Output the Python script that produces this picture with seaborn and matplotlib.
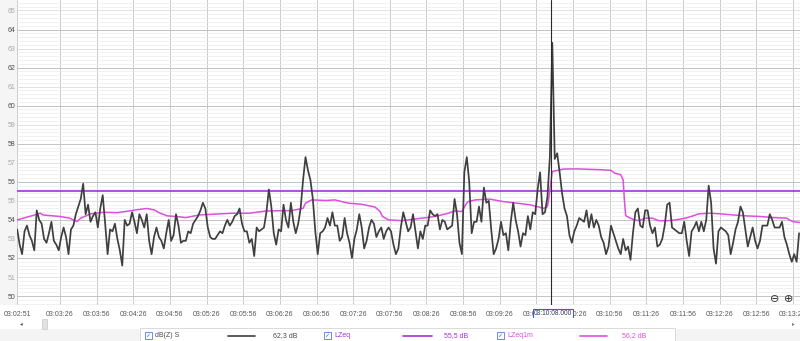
import numpy as np
import pandas as pd
import matplotlib
matplotlib.use("Agg")
import matplotlib.pyplot as plt
from matplotlib.patches import Rectangle
from matplotlib.lines import Line2D
from matplotlib.ticker import MultipleLocator
import seaborn as sns

# ---------------- data (time = seconds after 03:02:51) ----------------
step_s = 2
dbz_s = [
    53.5, 52.7, 52.2, 53.4, 53.7, 53.2, 52.9, 52.4, 54.5, 54.0,
    53.8, 53.0, 52.8, 53.3, 53.9, 52.9, 52.7, 52.4, 53.1, 53.6,
    53.1, 52.2, 53.5, 53.7, 54.3, 54.7, 55.1, 55.9, 54.3, 54.8,
    53.9, 54.2, 54.4, 53.6, 54.6, 55.3, 53.8, 52.2, 53.5, 53.4,
    53.8, 53.0, 52.4, 51.6, 54.0, 53.7, 53.8, 54.4, 53.9, 53.3,
    54.3, 54.0, 53.6, 54.3, 52.9, 52.2, 53.1, 53.6, 53.1, 52.9,
    52.5, 53.3, 54.0,
    52.9, 53.2, 54.3, 53.7, 52.8, 52.9, 52.9,
    53.4, 53.3, 53.8, 54.0, 54.2, 54.5, 54.9, 54.6, 53.6, 53.1,
    53.0, 53.0, 53.2, 53.4, 53.3, 53.7, 54.0, 53.7, 53.9, 54.2,
    54.3, 54.6, 53.8, 53.4, 53.4, 52.8, 53.0, 52.1, 53.6, 53.4,
    53.5, 53.6, 54.4, 55.6, 54.7, 53.3, 52.7, 53.5, 53.4, 54.8,
    54.0, 53.6, 54.9, 53.9, 53.3, 53.8, 54.6, 56.1, 57.3, 56.6,
    56.1, 55.1, 53.4, 52.2, 53.3, 53.4, 53.6,
    54.1, 53.7, 54.4, 53.7, 53.7, 52.9, 53.1, 54.1, 53.3, 52.8,
    52.0, 53.0, 53.5, 54.3, 53.6, 52.5, 52.9, 53.6, 54.0, 53.8,
    53.1, 53.4, 53.6, 53.0, 53.4, 53.6, 53.4, 52.7, 52.2, 52.5,
    53.6, 54.4, 53.9, 53.4, 53.6, 54.3, 53.4, 52.5, 53.4, 53.0,
    53.7, 53.7, 54.5, 54.3, 54.2, 54.3, 53.5, 54.0, 53.9, 53.5,
    53.6, 53.7, 55.1, 54.3, 52.8, 52.2, 56.5, 57.3, 56.0, 53.3,
    53.9, 53.9, 54.7, 53.9,
    55.7, 54.9, 55.0, 53.5, 52.2, 52.5, 53.0, 53.9, 53.2, 53.3,
    52.4, 53.9, 54.9, 54.0, 53.4, 52.6, 53.3, 53.2, 54.2, 53.5,
    54.4, 54.3, 55.6, 56.5, 54.3, 54.4, 55.2, 57.3, 63.3, 57.2,
    57.5, 56.5, 55.4, 54.6, 54.2, 53.2, 52.8, 53.4, 53.7, 54.1,
    54.0, 53.9, 54.5, 53.6, 54.3, 53.6, 54.0, 53.7, 53.1, 52.8,
    52.2, 52.6, 53.7, 53.3, 52.9, 52.5, 52.2, 53.0, 52.4, 52.6,
    51.9, 53.3, 54.4,
    54.6, 53.7, 53.6, 54.5, 54.5, 53.7, 53.3, 53.6, 52.6, 52.7,
    53.0, 53.7, 54.8, 54.9, 53.6, 53.5, 53.4, 53.3, 53.3, 53.9,
    52.9, 52.1, 53.4, 53.6, 53.9, 53.4, 53.9, 53.4, 54.0, 55.8,
    54.9, 52.5, 51.7, 53.4, 53.6, 53.5, 53.4, 53.2, 52.2, 52.8,
    53.5, 53.9, 54.7, 54.4, 53.5, 52.6, 53.1, 53.6, 52.9, 52.5,
    52.9, 53.7, 53.7, 53.7, 54.3, 54.0, 53.6, 53.6, 53.6, 53.9,
    53.1, 52.7, 52.2, 51.8, 52.2, 51.8, 53.3,
]

lzeq_level = 55.5

lzeq1m_t = [0, 10, 19, 21, 35, 43, 46, 49, 52, 60, 71, 82, 98, 106, 112, 117,
            123, 130, 138, 149, 176, 190, 204, 225, 234, 236, 241, 253, 260,
            271, 282, 293, 297, 299, 304, 315, 331, 342, 353, 358, 364, 367,
            369, 375, 387, 398, 409, 420, 431, 434, 435, 436, 438, 447, 458,
            480, 486, 489, 494, 496, 497, 498, 499, 505, 509, 514, 520, 525,
            531, 539, 547, 553, 558, 567, 575, 586, 597, 608, 619, 630, 632,
            635, 641]
lzeq1m_v = [54.0, 54.18, 54.35, 54.26, 54.18, 54.09, 54.0, 53.91, 54.09, 54.32,
            54.4, 54.38, 54.53, 54.6, 54.53, 54.35, 54.21, 54.18, 54.12, 54.26,
            54.35, 54.35, 54.47, 54.49, 54.61, 54.88, 55.05, 55.02, 55.05,
            54.88, 54.82, 54.67, 54.44, 54.18, 54.0, 53.96, 54.09, 54.18,
            54.35, 54.47, 54.44, 54.79, 54.96, 55.05, 55.09, 54.96, 54.88,
            54.79, 54.61, 54.7, 55.05, 55.58, 56.54, 56.67, 56.68, 56.63,
            56.6, 56.46, 56.37, 56.1, 55.05, 54.26, 54.18, 54.0, 53.96, 54.09,
            54.09, 53.96, 53.95, 54.0, 54.09, 54.21, 54.32, 54.35, 54.32,
            54.26, 54.21, 54.18, 54.12, 54.09, 54.0, 53.91, 53.86]

tick_t = [0, 35, 65, 95, 125, 155, 185, 215, 245, 275, 305, 335, 365, 395,
          425, 455, 485, 515, 545, 575, 605, 635]
tick_labels = ["03:02:51", "03:03:26", "03:03:56", "03:04:26", "03:04:56",
               "03:05:26", "03:05:56", "03:06:26", "03:06:56", "03:07:26",
               "03:07:56", "03:08:26", "03:08:56", "03:09:26", "03:09:56",
               "03:10:26", "03:10:56", "03:11:26", "03:11:56", "03:12:26",
               "03:12:56", "03:13:26"]
y_ticks = list(range(50, 66))

cursor_t = 437
cursor_label = "03:10:08.000"

legend_names = ["dB(Z) S", "LZeq", "LZeq1m"]
legend_values = ["62,3 dB", "55,5 dB", "56,2 dB"]

# ---------------- styles ----------------
C_DBZ = "#3f3f3f"
C_LZEQ = "#a133d6"
C_LZEQ1M = "#de4fe0"
W, H = 800, 341

sns.set_style("white")
plt.rcParams["font.family"] = ["Liberation Sans", "DejaVu Sans"]

fig = plt.figure(figsize=(W / 100, H / 100), dpi=100, facecolor="white")
ax_left, ax_right, ax_top, ax_bottom = 17.2, 800, 0, 305
ax = fig.add_axes([ax_left / W, (H - ax_bottom) / H,
                   (ax_right - ax_left) / W, (ax_bottom - ax_top) / H])
ax.set_facecolor("white")

df = pd.DataFrame({"t": np.arange(len(dbz_s)) * step_s, "v": dbz_s})
df1 = pd.DataFrame({"t": lzeq1m_t, "v": lzeq1m_v})

ax.axhline(lzeq_level, color=C_LZEQ, lw=1.2, zorder=3)
sns.lineplot(data=df1, x="t", y="v", ax=ax, color=C_LZEQ1M, lw=1.1,
             zorder=3, estimator=None)
sns.lineplot(data=df, x="t", y="v", ax=ax, color=C_DBZ, lw=1.25,
             zorder=4, estimator=None)
ax.axvline(cursor_t, color="#2a2a2a", lw=0.8, zorder=5)

ax.set_xlim(0, (ax_right - ax_left) / 1.2217)
ax.set_ylim(49.53, 65.55)
ax.set_xlabel("")
ax.set_ylabel("")

ax.set_yticks(y_ticks)
ax.set_yticklabels([str(v) for v in y_ticks])
ax.yaxis.set_minor_locator(MultipleLocator(0.2))
ax.set_xticks(tick_t)
ax.set_xticklabels(tick_labels)

ax.grid(which="minor", axis="y", color="#ececec", lw=0.5, zorder=0)
ax.grid(which="major", axis="y", color="#dcdcdc", lw=0.6, zorder=0)
ax.grid(which="major", axis="x", color="#c9c9c9", lw=0.7, zorder=0)
for val, gl in zip(y_ticks, ax.get_ygridlines()):
    if val % 2 == 0:
        gl.set_color("#c4c4c4")
        gl.set_linewidth(0.7)
ax.set_axisbelow(True)

ax.tick_params(axis="both", which="both", length=0)
ax.tick_params(axis="y", pad=1.2, labelsize=5)
ax.tick_params(axis="x", pad=4.0, labelsize=5, labelcolor="#585858")
for val, lab in zip(y_ticks, ax.get_yticklabels()):
    lab.set_color("#4a4a4a" if val % 2 == 0 else "#a8a8a8")
for s in ax.spines.values():
    s.set_visible(False)

# cursor time label box
ax.text(cursor_t + 1.5, -8.5 / 305, cursor_label, transform=ax.get_xaxis_transform(),
        ha="center", va="center", fontsize=4.8, color="#3a3a5a", zorder=10,
        bbox=dict(boxstyle="square,pad=0.18", fc="white", ec="#3d5fc4", lw=0.8),
        clip_on=False)

def fx(x):
    return x / W

def fy(y):
    return 1 - y / H

# left margin tint
fig.patches.append(Rectangle((0, fy(ax_bottom)), fx(ax_left), ax_bottom / H,
                             transform=fig.transFigure, fc="#f5f5f5", ec="none",
                             zorder=-1))

# zoom icons
fig.text(fx(775), fy(299), "\u2296", fontsize=8, ha="center", va="center",
         color="#333333", family=["DejaVu Sans"])
fig.text(fx(789), fy(299), "\u2295", fontsize=8, ha="center", va="center",
         color="#333333", family=["DejaVu Sans"])

# scrollbar
fig.patches.append(Rectangle((fx(0), fy(329)), 1, 11 / H, transform=fig.transFigure,
                             fc="white", ec="none", zorder=1))
fig.patches.append(Rectangle((fx(42), fy(328.5)), 4.5 / W, 10 / H,
                             transform=fig.transFigure, fc="#e2e2e2",
                             ec="#c8c8c8", lw=0.5, zorder=2))
fig.text(fx(21), fy(323.5), "\u25c2", fontsize=4, ha="center", va="center",
         color="#555555", family=["DejaVu Sans"])
fig.text(fx(793), fy(323.5), "\u25b8", fontsize=4, ha="center", va="center",
         color="#777777", family=["DejaVu Sans"])

# bottom strip + legend box
fig.patches.append(Rectangle((0, 0), 1, 12 / H, transform=fig.transFigure,
                             fc="#f4f4f4", ec="none", zorder=1))
fig.patches.append(Rectangle((fx(140), fy(341)), 535 / W, 13 / H,
                             transform=fig.transFigure, fc="white",
                             ec="#d4d4d4", lw=0.6, zorder=2))

legend_box_x = [148, 327, 500]
legend_text_x = [155, 334, 507]
legend_line_x = [(228, 255), (403, 432), (580, 607)]
legend_val_x = [285, 456, 634]
legend_colors = [C_DBZ, C_LZEQ, C_LZEQ1M]
legend_text_colors = ["#4a4a4a", C_LZEQ, C_LZEQ1M]
ly = 335.5
for i in range(3):
    fig.patches.append(Rectangle((fx(legend_box_x[i] - 3.5), fy(ly + 3.5)), 7 / W, 7 / H,
                                 transform=fig.transFigure, fc="white",
                                 ec="#4f7fd0", lw=0.6, zorder=3))
    fig.text(fx(legend_box_x[i]), fy(ly), "\u2713", fontsize=4.5, ha="center",
             va="center", color="#3d6cc0", family=["DejaVu Sans"], zorder=4)
    fig.text(fx(legend_text_x[i]), fy(ly), legend_names[i], fontsize=5,
             ha="left", va="center", color=legend_text_colors[i], zorder=4)
    x0, x1 = legend_line_x[i]
    fig.lines.append(Line2D([fx(x0), fx(x1)], [fy(ly), fy(ly)],
                            transform=fig.transFigure, color=legend_colors[i],
                            lw=1.2, zorder=4))
    fig.text(fx(legend_val_x[i]), fy(ly), legend_values[i], fontsize=5,
             ha="center", va="center", color=legend_text_colors[i], zorder=4)

fig.savefig("out.png", dpi=100, facecolor="white")
